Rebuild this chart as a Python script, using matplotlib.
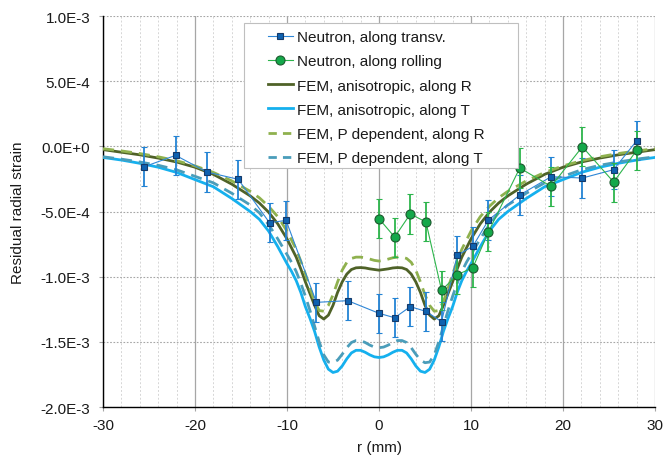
import matplotlib
matplotlib.use("Agg")
import matplotlib.pyplot as plt
import numpy as np
from matplotlib.ticker import FixedLocator, FixedFormatter, MultipleLocator
from matplotlib.lines import Line2D
from matplotlib.patches import Rectangle

plt.rcParams['font.family'] = ['Liberation Sans', 'DejaVu Sans']
plt.rcParams['axes.unicode_minus'] = False

# Neutron data
x_transv = [-25.5, -22.1, -18.7, -15.3, -11.9, -10.1, -6.8, -3.4, 0.0, 1.7, 3.4, 5.1, 6.8, 8.5, 10.2, 11.9, 15.3, 18.7, 22.1, 25.5, 28.0]
y_transv = [-1.56e-4, -0.69e-4, -1.97e-4, -2.53e-4, -5.86e-4, -5.68e-4, -1.197e-3, -1.184e-3, -1.281e-3, -1.315e-3, -1.23e-3,
            -1.266e-3, -1.345e-3, -8.36e-4, -7.67e-4, -5.65e-4, -3.73e-4, -2.33e-4, -2.43e-4, -1.79e-4, 0.43e-4]
err_transv = [1.5e-4] * 21

x_roll = [0.0, 1.7, 3.4, 5.1, 6.8, 8.5, 10.2, 11.9, 15.3, 18.7, 22.1, 25.5, 28.0]
y_roll = [-5.55e-4, -6.96e-4, -5.19e-4, -5.80e-4, -1.105e-3, -9.85e-4, -9.31e-4, -6.55e-4, -1.66e-4, -3.07e-4, -0.03e-4, -2.74e-4, -0.31e-4]
err_roll = [1.5e-4] * 13

# FEM curves (half profile, x >= 0, values in 1e-4), mirrored for x < 0
x_half = [0, 0.5, 1, 1.5, 2, 2.5, 3, 3.5, 4, 4.5, 5, 5.5, 6, 6.5, 7, 7.5, 8, 8.5, 9, 9.5, 10,
          11, 12, 13, 14, 16, 18, 20, 22, 24, 26, 28, 30]
fem_aniso_R = [-9.5, -9.45, -9.4, -9.33, -9.3, -9.32, -9.45, -9.8, -10.4, -11.2, -12.2, -12.95, -13.25, -13.0,
               -12.2, -11.3, -10.4, -9.4, -8.5, -7.8, -7.1, -5.95, -5.05, -4.35, -3.8, -2.9, -2.15, -1.6, -1.2,
               -0.9, -0.65, -0.45, -0.25]
fem_aniso_T = [-16.2, -16.15, -16.0, -15.8, -15.65, -15.65, -15.85, -16.3, -16.85, -17.25, -17.35, -17.1, -16.4,
               -15.4, -14.2, -13.2, -12.3, -11.2, -10.3, -9.6, -9.0, -7.7, -6.5, -5.6, -5.0, -4.0, -3.1, -2.55,
               -2.0, -1.6, -1.3, -1.05, -0.85]
fem_P_R = [-8.8, -8.75, -8.65, -8.55, -8.5, -8.5, -8.6, -8.9, -9.5, -10.4, -11.4, -12.2, -12.65, -12.6, -11.9,
           -10.9, -9.8, -8.8, -7.9, -7.2, -6.5, -5.4, -4.6, -3.95, -3.45, -2.65, -2.0, -1.5, -1.1, -0.8, -0.55,
           -0.35, -0.18]
fem_P_T = [-15.45, -15.4, -15.25, -15.05, -14.9, -14.9, -15.05, -15.45, -15.95, -16.4, -16.6, -16.55, -16.0,
           -15.0, -13.8, -12.6, -11.5, -10.5, -9.6, -8.9, -8.3, -7.1, -6.0, -5.1, -4.5, -3.6, -2.8, -2.3, -1.8,
           -1.45, -1.2, -0.98, -0.8]

y_ticks = [1.0e-3, 5.0e-4, 0.0, -5.0e-4, -1.0e-3, -1.5e-3, -2.0e-3]
y_tick_labels = ["1.0E-3", "5.0E-4", "0.0E+0", "-5.0E-4", "-1.0E-3", "-1.5E-3", "-2.0E-3"]
x_ticks = [-30, -20, -10, 0, 10, 20, 30]
legend_labels = ['Neutron, along transv.', 'Neutron, along rolling', 'FEM, anisotropic, along R',
                 'FEM, anisotropic, along T', 'FEM, P dependent, along R', 'FEM, P dependent, along T']


def full(xh, yh):
    xh = np.asarray(xh, float)
    yh = np.asarray(yh, float) * 1e-4
    xf = np.concatenate([-xh[::-1], xh[1:]])
    yf = np.concatenate([yh[::-1], yh[1:]])
    return xf, yf


FS = 11
fig = plt.figure(figsize=(6.63, 4.6), dpi=100)
ax = fig.add_axes([0.1553, 0.113, 0.8327, 0.850])

ax.set_xlim(-30, 30)
ax.set_ylim(-2.0e-3, 1.0e-3)
ax.xaxis.set_major_locator(FixedLocator(x_ticks))
ax.xaxis.set_minor_locator(MultipleLocator(2))
ax.yaxis.set_major_locator(FixedLocator(y_ticks))
ax.yaxis.set_major_formatter(FixedFormatter(y_tick_labels))
ax.grid(True, which='major', axis='x', color='#A6A6A6', lw=0.9, ls='-')
ax.grid(True, which='minor', axis='x', color='#D6D6D6', lw=0.7, ls=(0, (2, 2)))
ax.grid(True, which='major', axis='y', color='#A6A6A6', lw=0.8, ls=(0, (1.5, 1.5)))
ax.set_axisbelow(True)

for s in ['top', 'right']:
    ax.spines[s].set_visible(False)
for s in ['left', 'bottom']:
    ax.spines[s].set_color('black')
    ax.spines[s].set_linewidth(1.0)

ax.tick_params(which='major', length=3, width=0.8, color='#A6A6A6', labelsize=FS, labelcolor='#1a1a1a')
ax.tick_params(which='minor', length=0)
ax.tick_params(axis='x', pad=5)
ax.tick_params(axis='y', pad=6)

# neutron data
ax.errorbar(x_transv, y_transv, yerr=err_transv, color='#2E86D6', lw=0.8, marker='s', ms=5,
            mfc='#0F62B0', mec='#153A6A', mew=0.8, ecolor='#2383D4', elinewidth=1.3, capsize=2.5,
            capthick=1.3, zorder=4)
ax.errorbar(x_roll, y_roll, yerr=err_roll, color='#2DB54C', lw=0.8, marker='o', ms=6.5,
            mfc='#14A84A', mec='#1C5A2E', mew=0.8, ecolor='#2DB54C', elinewidth=1.3, capsize=2.5,
            capthick=1.3, zorder=4)

dash = (0, (4, 2.5))
xf, yf = full(x_half, fem_aniso_R)
ax.plot(xf, yf, color='#4F6228', lw=2.0, zorder=3)
xf, yf = full(x_half, fem_aniso_T)
ax.plot(xf, yf, color='#15B0EE', lw=2.0, zorder=3)
xf, yf = full(x_half, fem_P_R)
ax.plot(xf, yf, color='#8FB14E', lw=2.0, ls=dash, zorder=3)
xf, yf = full(x_half, fem_P_T)
ax.plot(xf, yf, color='#4A9DBA', lw=2.0, ls=dash, zorder=3)

ax.set_xlabel('r (mm)', fontsize=FS, color='#1a1a1a', labelpad=6)
ax.set_ylabel('Residual radial strain', fontsize=FS, color='#1a1a1a', labelpad=11)

# legend box (drawn separately so the padding matches the original)
ax.add_patch(Rectangle((0.2554, 0.611), 0.7518 - 0.2554, 0.982 - 0.611, transform=ax.transAxes,
                       facecolor='white', edgecolor='#BFBFBF', lw=0.8, zorder=6, clip_on=False))
handles = [
    Line2D([], [], color='#2E86D6', lw=0.8, marker='s', ms=5, mfc='#0F62B0', mec='#153A6A', mew=0.8),
    Line2D([], [], color='#2DB54C', lw=0.8, marker='o', ms=6.5, mfc='#14A84A', mec='#1C5A2E', mew=0.8),
    Line2D([], [], color='#4F6228', lw=2.0),
    Line2D([], [], color='#15B0EE', lw=2.0),
    Line2D([], [], color='#8FB14E', lw=2.0, ls=(0, (3, 2.2))),
    Line2D([], [], color='#4A9DBA', lw=2.0, ls=(0, (3, 2.2))),
]
leg = ax.legend(handles, legend_labels, loc='upper left', bbox_to_anchor=(0.299, 0.964),
                borderaxespad=0, borderpad=0, fontsize=FS, frameon=False,
                handlelength=1.63, handletextpad=0.26, labelspacing=0.67)
leg.set_zorder(7)
for t in leg.get_texts():
    t.set_color('#1a1a1a')

fig.savefig('out.png', dpi=100)
